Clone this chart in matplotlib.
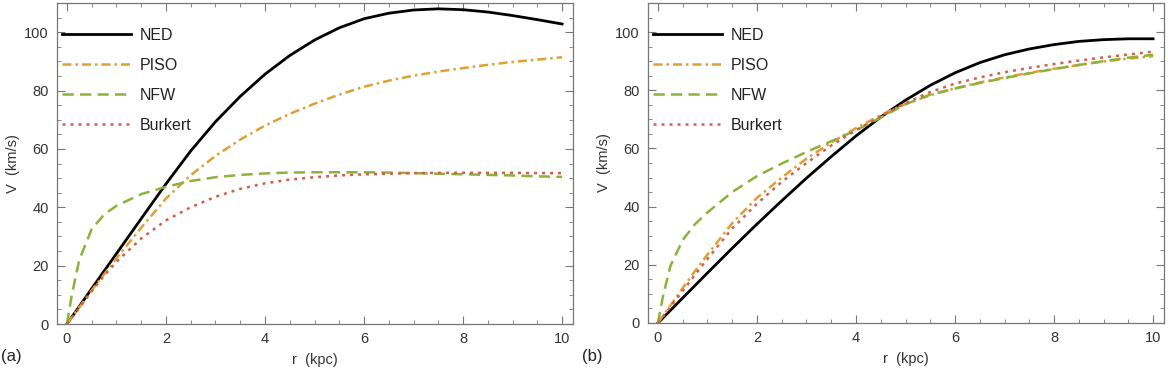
import matplotlib
matplotlib.use("Agg")
import matplotlib.pyplot as plt
from matplotlib.ticker import MultipleLocator

plt.rcParams['font.family'] = ['Liberation Sans', 'DejaVu Sans']

# radius grid (kpc)
r_a = [0, 0.1, 0.25, 0.5, 0.75, 1, 1.5, 2, 2.5, 3, 3.5, 4, 4.5, 5, 5.5, 6, 6.5, 7, 7.5, 8, 8.5, 9, 9.5, 10]

# panel (a) velocities (km/s)
ned_a = [0, 2.4, 6, 12.1, 18.1, 24.1, 36.1, 48, 59.3, 69.3, 78, 85.6, 92, 97.3, 101.5, 104.6, 106.5, 107.6, 108, 107.7, 106.9, 105.7, 104.3, 102.8]
piso_a = [0, 2.3, 5.7, 11.5, 17, 22.5, 33, 43, 51, 57.6, 63.2, 68, 72, 75.5, 78.6, 81.3, 83.4, 85.1, 86.5, 87.7, 88.8, 89.8, 90.6, 91.4]
nfw_a = [0, 10, 22, 32.5, 37.5, 40.5, 44.5, 47, 49, 50.3, 51.1, 51.6, 51.9, 52, 52, 52, 51.9, 51.7, 51.5, 51.3, 51.1, 50.9, 50.6, 50.4]
burk_a = [0, 2.2, 5.5, 11.2, 16.5, 21.3, 29.3, 35.5, 40, 43.6, 46.3, 48.2, 49.5, 50.3, 50.9, 51.3, 51.5, 51.7, 51.8, 51.8, 51.8, 51.8, 51.7, 51.7]

# panel (b) velocities (km/s)
ned_b = [0, 1.7, 4.3, 8.6, 12.9, 17.2, 25.7, 34, 42, 49.8, 57.2, 64.3, 70.8, 76.6, 81.7, 86, 89.5, 92.2, 94.2, 95.7, 96.8, 97.4, 97.7, 97.7]
piso_b = [0, 2.4, 6, 12, 17.9, 23.5, 34.3, 43, 50, 56.5, 62, 67, 71.5, 75.3, 78.3, 80.7, 82.7, 84.4, 86, 87.4, 88.7, 89.9, 90.9, 91.7]
nfw_b = [0, 9, 19.5, 28.5, 34, 38, 45, 50.5, 54.8, 58.8, 62.5, 66.2, 70.6, 75.2, 78.5, 80.6, 82.5, 84.2, 85.8, 87.3, 88.7, 90, 91.2, 92.2]
burk_b = [0, 2.2, 5.5, 11, 16.6, 22, 32.5, 41, 48.5, 55, 61, 66.3, 71, 75.6, 79.4, 82.3, 84.4, 86.2, 87.7, 89, 90.2, 91.3, 92.3, 93.3]

labels = ['NED', 'PISO', 'NFW', 'Burkert']
colors = ['black', '#dfa033', '#8db23c', '#d2604b']
styles = ['-', (0, (3.6, 1.6, 1.0, 1.6)), (0, (4.5, 2.5)), (0, (1.2, 2.0))]
widths = [2.0, 1.8, 1.8, 1.8]

fig = plt.figure(figsize=(11.68, 3.78), dpi=100)
ax_a = fig.add_axes([57 / 1168, 54 / 378, 516 / 1168, 321 / 378])
ax_b = fig.add_axes([648 / 1168, 55 / 378, 516 / 1168, 320 / 378])

for ax, series in [(ax_a, [ned_a, piso_a, nfw_a, burk_a]),
                   (ax_b, [ned_b, piso_b, nfw_b, burk_b])]:
    for v, lab, c, ls, lw in zip(series, labels, colors, styles, widths):
        ax.plot(r_a, v, color=c, linestyle=ls, linewidth=lw, label=lab)
    ax.set_xlim(-0.2, 10.22)
    ax.set_ylim(0, 110)
    ax.xaxis.set_major_locator(MultipleLocator(2))
    ax.xaxis.set_minor_locator(MultipleLocator(0.5))
    ax.yaxis.set_major_locator(MultipleLocator(20))
    ax.yaxis.set_minor_locator(MultipleLocator(5))
    ax.tick_params(which='both', direction='in', top=True, right=True,
                   color='#777777', labelsize=10.5, labelcolor='#333333', pad=6)
    ax.tick_params(which='major', length=5.5, width=0.8)
    ax.tick_params(which='minor', length=2.8, width=0.6)
    for s in ax.spines.values():
        s.set_color('#777777')
        s.set_linewidth(0.9)
    ax.set_xlabel('r  (kpc)', fontsize=10.5, color='#333333', labelpad=5)
    ax.set_ylabel('V  (km/s)', fontsize=10.5, color='#333333', labelpad=3)
    leg = ax.legend(loc='upper left', bbox_to_anchor=(0.01, 0.922), frameon=False,
                    fontsize=11.5, handlelength=4.3, handletextpad=0.55,
                    labelspacing=0.93, borderpad=0, borderaxespad=0)
    for t in leg.get_texts():
        t.set_color('#222222')

fig.text(0.001, 1 - 357 / 378, '(a)', fontsize=12, color='#222222', va='center')
fig.text(582 / 1168, 1 - 357 / 378, '(b)', fontsize=12, color='#222222', va='center')

fig.savefig('out.png', dpi=100)
